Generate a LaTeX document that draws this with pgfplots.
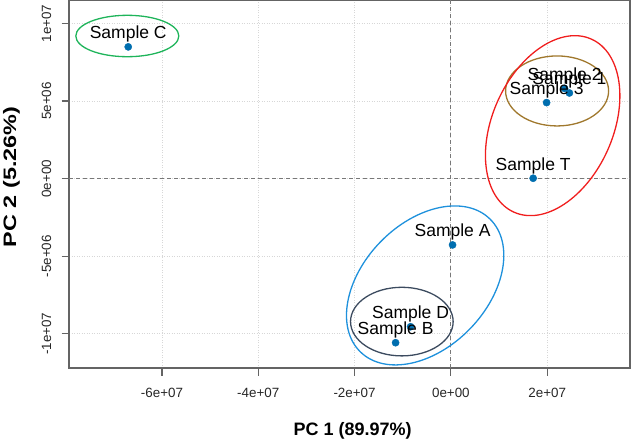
\documentclass[border=0pt]{standalone}
\usepackage{fontspec}
\setmainfont{Liberation Sans}
\usepackage{graphicx}
\usepackage{pgfplots}
\pgfplotsset{compat=1.18}
\usepackage{pgfplotstable}

\definecolor{ptblue}{RGB}{0,110,175}
\definecolor{ellgreen}{RGB}{30,180,90}
\definecolor{ellred}{RGB}{240,30,30}
\definecolor{ellbrown}{RGB}{160,120,45}
\definecolor{ellblue}{RGB}{30,145,220}
\definecolor{ellslate}{RGB}{60,75,95}
\definecolor{framegray}{RGB}{100,100,100}
\definecolor{gridgray}{RGB}{215,215,215}
\definecolor{zerogray}{RGB}{120,120,120}

\pgfplotstableread[col sep=comma]{
x,y,label
-6.70e7,8.49e6,Sample C
2.361e7,5.81e6,Sample 2
2.461e7,5.52e6,Sample 1
1.988e7,4.90e6,Sample 3
1.709e7,2.6e4,Sample T
3.5e5,-4.27e6,Sample A
-8.37e6,-9.54e6,Sample D
-1.148e7,-1.057e7,Sample B
}\samples

\begin{document}
\begin{tikzpicture}
\useasboundingbox (0,0) rectangle (632bp,442bp);
\begin{axis}[
  at={(69bp,74bp)}, anchor=south west,
  scale only axis, width=561bp, height=368bp,
  xmin=-7.93e7, xmax=3.72e7, ymin=-1.22e7, ymax=1.151e7,
  scaled ticks=false,
  axis line style={framegray, line width=1.5bp},
  xtick={-6e7,-4e7,-2e7,0,2e7},
  xticklabels={-6e+07,-4e+07,-2e+07,0e+00,2e+07},
  ytick={-1e7,-5e6,0,5e6,1e7},
  yticklabels={-1e+07,-5e+06,0e+00,5e+06,1e+07},
  xtick pos=lower, ytick pos=left,
  tick align=outside, major tick length=7.5bp,
  tick style={framegray, line width=1.2bp},
  grid=major, grid style={gridgray, line width=0.8bp, dash pattern=on 1bp off 1.5bp},
  ticklabel style={font=\fontsize{13.4bp}{16bp}\selectfont, text=black!85},
  xticklabel style={anchor=north, inner sep=0pt},
  xticklabel shift=12.4bp,
  yticklabel style={rotate=90, anchor=south, inner sep=0pt},
  yticklabel shift=10bp,
  xlabel={PC 1 (89.97\%)},
  ylabel={\scalebox{1.3}[1]{PC 2 (5.26\%)}},
  label style={font=\bfseries\fontsize{18bp}{21bp}\selectfont},
  xlabel style={at={(axis description cs:0.5055,-0.171)}, anchor=center, inner sep=0pt},
  ylabel style={at={(axis description cs:-0.1025,0.519)}, anchor=center, inner sep=0pt, rotate=0},
  clip=true,
]
% zero reference lines
\addplot[zerogray, line width=1.2bp, dash pattern=on 4bp off 3bp] coordinates {(0,-1.22e7) (0,1.151e7)};
\addplot[zerogray, line width=1.2bp, dash pattern=on 4bp off 3bp] coordinates {(-7.93e7,0) (3.72e7,0)};
% ellipses
\draw[ellgreen, line width=1.3bp] (axis cs:-6.719e7,9.19e6) ellipse [x radius=51.5bp, y radius=20.7bp];
\draw[ellbrown, line width=1.3bp] (axis cs:2.206e7,5.65e6) ellipse [x radius=51.5bp, y radius=35bp];
\draw[ellred, line width=1.3bp, rotate around={65.9:(axis cs:2.114e7,3.415e6)}] (axis cs:2.114e7,3.415e6) ellipse [x radius=94.8bp, y radius=60.2bp];
\draw[ellblue, line width=1.3bp, rotate around={45.8:(axis cs:-5.34e6,-6.88e6)}] (axis cs:-5.34e6,-6.88e6) ellipse [x radius=92.8bp, y radius=62.4bp];
\draw[ellslate, line width=1.3bp] (axis cs:-1.018e7,-9.21e6) ellipse [x radius=51.3bp, y radius=34.3bp];
% points with labels
\addplot[only marks, mark=*, mark size=3.6bp, color=ptblue,
  point meta=explicit symbolic,
  nodes near coords,
  nodes near coords style={anchor=center, yshift=12.5bp, text=black, inner sep=0pt,
    font=\fontsize{17.5bp}{20bp}\selectfont}]
  table[x=x, y=y, meta=label] {\samples};
\end{axis}
\end{tikzpicture}
\end{document}
